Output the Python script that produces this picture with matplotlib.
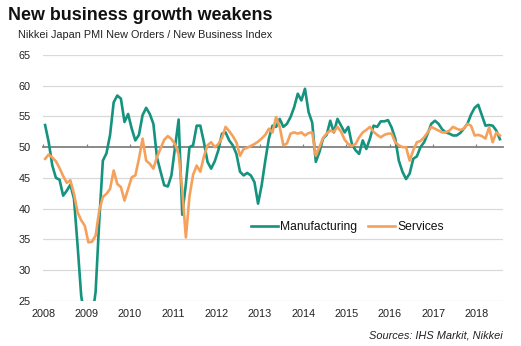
import numpy as np
import matplotlib
matplotlib.use("Agg")
import matplotlib.pyplot as plt

plt.rcParams['font.family'] = ['Liberation Sans', 'DejaVu Sans']

# Monthly index readings, January 2008 onwards
start_year = 2008
manufacturing = [
    53.6, 50.8, 47.0, 45.0, 44.7, 42.1, 42.9, 43.9, 41.6, 34.0, 25.8, 22.0,
    20.5, 22.0, 26.5, 38.0, 47.8, 49.0, 52.0, 57.3, 58.4, 57.9, 54.1, 55.4,
    53.0, 51.1, 52.0, 55.2, 56.4, 55.4, 53.8, 48.3, 46.0, 43.8, 43.6, 45.4,
    50.0, 54.5, 39.0, 44.0, 50.0, 50.3, 53.5, 53.5, 50.8, 47.6, 46.5, 47.7,
    49.5, 52.2, 52.4, 51.1, 50.3, 48.9, 46.0, 45.4, 45.8, 45.4, 44.3, 40.8,
    43.8, 47.8, 51.4, 53.5, 53.3, 54.6, 53.3, 53.8, 54.9, 56.5, 58.7, 57.6,
    59.5, 55.7, 54.0, 47.6, 49.2, 51.4, 52.0, 54.3, 52.4, 54.6, 53.5, 52.4,
    53.3, 50.5, 49.5, 48.9, 51.1, 49.7, 51.4, 53.5, 53.3, 54.2, 54.2, 54.4,
    53.2, 51.4, 47.8, 46.0, 44.8, 45.7, 48.1, 48.5, 50.0, 50.8, 52.2, 53.8,
    54.3, 53.8, 52.9, 52.4, 52.2, 51.9, 51.9, 52.3, 53.0, 53.8, 55.3, 56.4,
    56.9, 55.2, 53.5, 53.6, 53.5, 52.7, 51.3,
]
services = [
    48.1, 48.8, 48.3, 47.7, 46.6, 45.3, 44.2, 44.6, 42.4, 39.4, 38.1, 37.2,
    34.5, 34.6, 35.6, 39.7, 41.9, 42.4, 43.2, 46.2, 44.0, 43.5, 41.3, 43.2,
    45.1, 45.4, 48.1, 51.4, 47.8, 47.3, 46.5, 48.4, 49.8, 51.2, 51.8, 51.3,
    50.5, 48.8, 43.0, 35.3, 42.0, 45.5, 47.0, 46.0, 48.5, 50.3, 50.8, 50.0,
    50.5, 51.5, 53.3, 52.6, 51.8, 50.8, 48.6, 49.7, 49.9, 50.2, 50.5, 50.9,
    51.4, 52.0, 53.0, 52.4, 54.9, 53.3, 50.3, 50.6, 52.2, 52.4, 52.2, 52.4,
    51.9, 52.3, 52.4, 48.6, 50.0, 51.5, 52.2, 52.7, 52.5, 53.3, 52.5, 51.2,
    50.5, 50.2, 50.5, 51.6, 52.4, 52.8, 53.3, 52.5, 52.0, 51.6, 52.0, 52.2,
    52.2, 50.8, 50.3, 50.0, 50.0, 47.8, 49.5, 50.8, 51.0, 51.6, 52.4, 53.3,
    53.0, 52.7, 52.4, 52.4, 52.7, 53.3, 53.0, 52.8, 53.0, 53.8, 53.5, 51.9,
    52.0, 51.8, 51.4, 53.2, 50.8, 52.4, 51.9,
]
year_ticks = list(range(2008, 2019))
y_ticks = [25, 30, 35, 40, 45, 50, 55, 60, 65]

series_names = ['Manufacturing', 'Services']
series_colors = ['#15937f', '#f5a15c']

dates = start_year + (np.arange(len(manufacturing)) + 0.5) / 12

fig = plt.figure(figsize=(5.21, 3.46), dpi=100)
ax = fig.add_axes([0.0831, 0.1309, 0.8829, 0.7101])

for v in y_ticks:
    if v != 50:
        ax.axhline(v, color='#d9d9d9', lw=0.9, zorder=1)

for vals, name, col in zip([manufacturing, services], series_names, series_colors):
    ax.plot(dates, vals, color=col, lw=1.9, label=name, zorder=3,
            solid_joinstyle='round')

ax.set_xlim(2008, 2018.62)
ax.set_ylim(25, 65)

for s in ax.spines.values():
    s.set_visible(False)

ax.set_yticks(y_ticks)
ax.set_yticklabels([str(v) for v in y_ticks])
ax.set_xticks(year_ticks)
ax.set_xticklabels([str(y) for y in year_ticks])
ax.tick_params(axis='both', length=0, labelsize=7.8, colors='#222222')
ax.tick_params(axis='y', pad=9)
ax.tick_params(axis='x', pad=6)

# 50 line with small year ticks
sec = ax.secondary_xaxis((50 - 25) / 40)
sec.set_xticks(year_ticks)
sec.set_xticklabels([])
sec.tick_params(axis='x', direction='out', length=2.5, width=0.9, color='#808080')
for k, s in sec.spines.items():
    s.set_visible(k == 'bottom')
sec.spines['bottom'].set_color('#808080')
sec.spines['bottom'].set_linewidth(1.3)
sec.set_zorder(2)

leg = ax.legend(loc='center', bbox_to_anchor=(0.661, 0.301), ncol=2, frameon=False,
                fontsize=8.7, handlelength=2.25, handletextpad=0.2,
                columnspacing=0.85, borderpad=0, borderaxespad=0)
for t in leg.get_texts():
    t.set_color('#111111')

fig.text(0.016, 0.942, 'New business growth weakens', fontsize=12.9,
         fontweight='bold', ha='left', va='baseline', color='#111111')
fig.text(0.034, 0.889, 'Nikkei Japan PMI New Orders / New Business Index',
         fontsize=7.8, ha='left', va='baseline', color='#222222')
fig.text(0.965, 0.023, 'Sources: IHS Markit, Nikkei', fontsize=7.9,
         style='italic', ha='right', va='baseline', color='#222222')

fig.savefig('out.png', dpi=100)
